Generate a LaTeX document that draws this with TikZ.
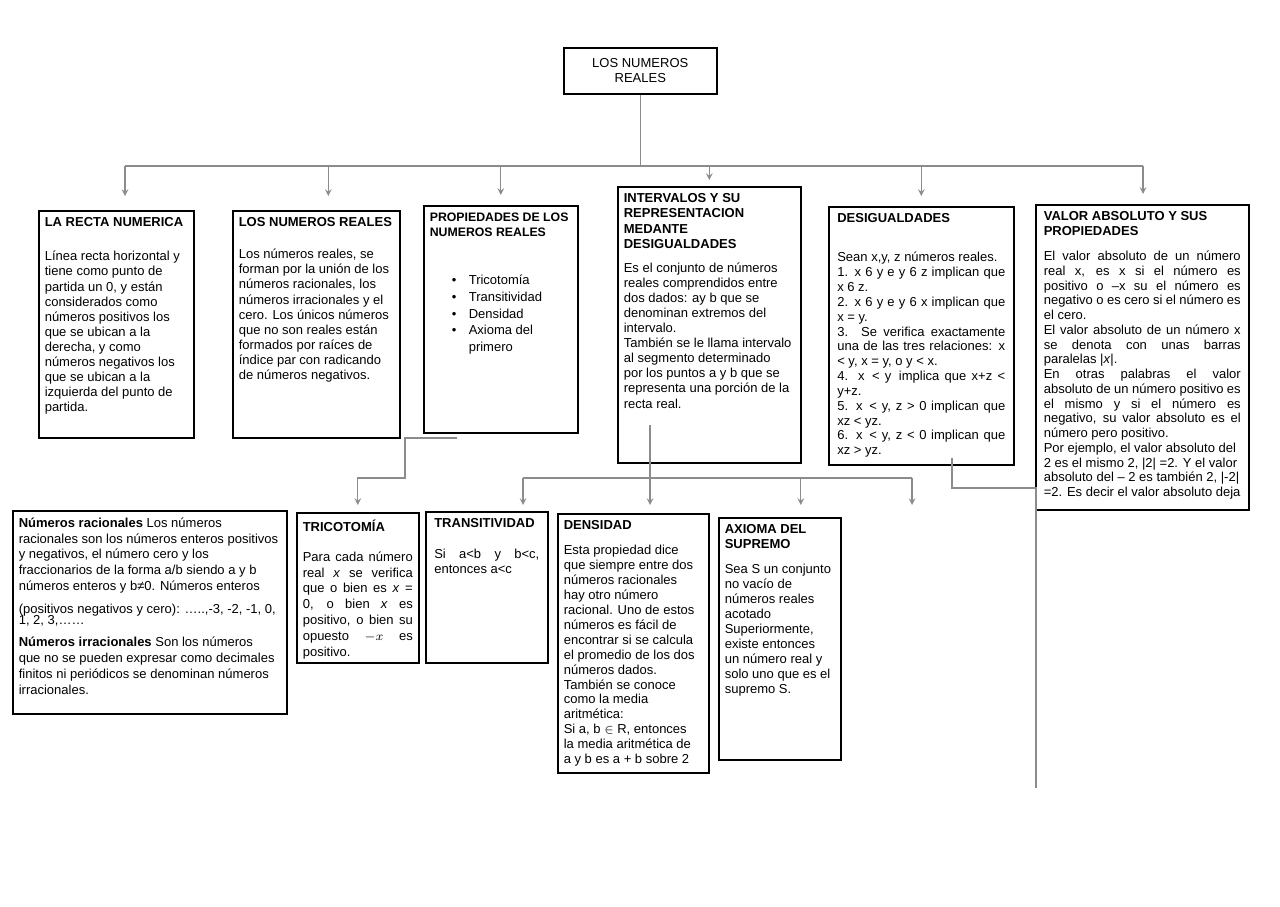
\documentclass[tikz,border=0pt]{standalone}
\usepackage{fontspec}
\setmainfont{Liberation Sans}
\usetikzlibrary{arrows,positioning}

\hyphenpenalty=10000
\exhyphenpenalty=10000

\newcommand{\contenido}[3]{\parbox[t][#2][t]{#1}{#3}}
\newcommand{\punto}{\hspace*{0.44cm}\makebox[0.34cm][l]{\textbullet}}

\begin{document}
\begin{tikzpicture}[x=0.02cm, y=-0.02cm,
    caja/.style={draw, line width=0.9pt, anchor=north west, inner xsep=0.12cm, inner ysep=0.14cm, font=\fontsize{7.4}{8.6}\selectfont},
    linea/.style={draw=black!45, line width=0.7pt},
    flecha/.style={linea, ->, >=stealth, shorten >=0.2cm}
]
\useasboundingbox (0,0) rectangle (1280,906);

% raiz
\node (raiz) [caja, minimum width=3.06cm, minimum height=0.92cm, align=center] at (563,47) {LOS NUMEROS\\REALES};

% primer nivel
\node (recta) [caja] at (38,210) {\contenido{2.86cm}{4.26cm}{\textbf{LA RECTA NUMERICA}\\[10.7pt]
Línea recta horizontal y\\ tiene como punto de\\ partida un 0, y están\\ considerados como\\ números positivos los\\ que se ubican a la\\ derecha, y como\\ números negativos los\\ que se ubican a la\\ izquierda del punto de\\ partida.}};
\node (reales) [caja] at (232,210) {\contenido{3.10cm}{4.26cm}{\textbf{LOS NUMEROS REALES}\\[9.5pt]
Los números reales, se\\ forman por la unión de los\\ números racionales, los\\ números irracionales y el\\ cero. Los únicos números\\ que no son reales están\\ formados por raíces de\\ índice par con radicando\\ de números negativos.}};
\node (propiedades) [caja] at (423,205) {\contenido{2.84cm}{4.26cm}{\mbox{\fontsize{7}{8.6}\selectfont\textbf{PROPIEDADES DE LOS}}\\ \textbf{\fontsize{7}{8.6}\selectfont NUMEROS REALES}\\[19pt]
\punto Tricotomía\\[0.8pt] \punto Transitividad\\[0.8pt] \punto Densidad\\[0.8pt] \punto Axioma del\\[0.8pt] \hspace*{0.78cm}primero}};
\node (intervalos) [caja] at (617,186) {\contenido{3.42cm}{5.24cm}{\textbf{INTERVALOS Y SU}\\ \textbf{REPRESENTACION}\\ \textbf{MEDANTE}\\ \textbf{DESIGUALDADES}\\[5pt]
Es el conjunto de números\\ reales comprendidos entre\\ dos dados: ay b que se\\ denominan extremos del\\ intervalo.\\ También se le llama intervalo\\ al segmento determinado\\ por los puntos a y b que se\\ representa una porción de la\\ recta real.}};
\node (desigualdades) [caja, inner xsep=0.17cm, font=\fontsize{7.4}{8.45}\selectfont] at (828,206) {\contenido{3.36cm}{4.88cm}{\textbf{DESIGUALDADES}\\[13.7pt]
Sean x,y, z números reales.\par
1. x 6 y e y 6 z implican que\linebreak x 6 z.\par
2. x 6 y e y 6 x implican que\linebreak x = y.\par
3. Se verifica exactamente\linebreak una de las tres relaciones: x\linebreak < y, x = y, o y < x.\par
4. x\, < y\, implica que x+z <\linebreak y+z.\par
5. x\, < y, z > 0 implican que\linebreak xz < yz.\par
6. x\, < y, z < 0 implican que\linebreak xz > yz.}};
\node (valor) [caja, inner xsep=0.16cm, font=\fontsize{7.4}{8.4}\selectfont] at (1035,204) {\contenido{3.94cm}{5.82cm}{\textbf{VALOR ABSOLUTO Y SUS}\\ \textbf{PROPIEDADES}\\[5.8pt]
El valor absoluto de un número\linebreak real x, es x si el número es\linebreak positivo o –x su el número es\linebreak negativo o es cero si el número es\linebreak el cero.\par
El valor absoluto de un número x\linebreak se denota con unas barras\linebreak paralelas |\textit{x}|.\par
En otras palabras el valor\linebreak absoluto de un número positivo es\linebreak el mismo y si el número es\linebreak negativo, su valor absoluto es el\linebreak número pero positivo.\par
Por ejemplo, el valor absoluto del\\ 2 es el mismo 2, |2| =2. Y el valor\\ absoluto del – 2 es también 2, |-2|\\ =2. Es decir el valor absoluto deja}};

% segundo nivel
\node (racionales) [caja, font=\fontsize{7.4}{9}\selectfont] at (12,510) {\contenido{5.24cm}{3.78cm}{\textbf{Números racionales} Los números\\ racionales son los números enteros positivos\\ y negativos, el número cero y los\\ fraccionarios de la forma a/b siendo a y b\\ números enteros y b≠0. Números enteros\\[4pt]
(positivos negativos y cero): …..,-3, -2, -1, 0,\\[-3pt] 1, 2, 3,……\\[4pt]
\textbf{Números irracionales} Son los números\\ que no se pueden expresar como decimales\\ finitos ni periódicos se denominan números\\ irracionales.}};
\node (tricotomia) [caja, font=\fontsize{7.4}{9}\selectfont] at (296,512) {\contenido{2.20cm}{2.72cm}{\textbf{TRICOTOMÍA}\\[8pt]
Para cada número\linebreak real \textit{x} se verifica\linebreak que o bien es \textit{x} =\linebreak 0, o bien \textit{x} es\linebreak positivo, o bien su\linebreak opuesto $-x$ es\linebreak positivo.}};
\node (transitividad) [caja, inner xsep=0.17cm] at (425,511) {\contenido{2.10cm}{2.74cm}{\textbf{TRANSITIVIDAD}\\[9pt]
Si a<b y b<c, entonces a<c}};
\node (densidad) [caja, font=\fontsize{7.4}{8.5}\selectfont] at (557,513) {\contenido{2.78cm}{4.9cm}{\textbf{DENSIDAD}\\[5.6pt]
Esta propiedad dice\\ que siempre entre dos\\ números racionales\\ hay otro número\\ racional. Uno de estos\\ números es fácil de\\ encontrar si se calcula\\ el promedio de los dos\\ números dados.\\ También se conoce\\ como la media\\ aritmética:\\ Si a, b $\in$ R, entonces\\ la media aritmética de\\ a y b es a + b sobre 2}};
\node (axioma) [caja, font=\fontsize{7.4}{8.5}\selectfont] at (718,517) {\contenido{2.20cm}{4.56cm}{\textbf{AXIOMA DEL}\\ \textbf{SUPREMO}\\[5.6pt]
Sea S un conjunto\\ no vacío de\\ números reales\\ acotado\\ Superiormente,\\ existe entonces\\ un número real y\\ solo uno que es el\\ supremo S.}};

% conectores del primer nivel
\coordinate (busizq) at (125,166);
\coordinate (busder) at (1143,166);
\draw [linea] (raiz.south) -- (raiz.south |- busizq);
\draw [linea] (busizq) -- (busder);
\draw [flecha, shorten >=0.28cm] (busizq) -- (busizq |- recta.north);
\draw [flecha, shorten >=0.28cm] ([xshift=0.24cm]reales.north |- busizq) -- ([xshift=0.24cm]reales.north);
\draw [flecha] (propiedades.north |- busizq) -- (propiedades.north);
\draw [flecha, shorten >=0.12cm] (intervalos.north |- busizq) -- (intervalos.north);
\draw [flecha] (desigualdades.north |- busizq) -- (desigualdades.north);
\draw [flecha] (busder) -- (busder |- valor.north);

% conectores del segundo nivel
\coordinate (propbajo) at (457,438);
\draw [flecha, shorten >=0.14cm] (propbajo) -- (405,438) -- (405,478) -| (tricotomia.north);
\coordinate (intbajo) at (650,425);
\coordinate (ramaizq) at (523,478);
\coordinate (ramader) at (912,478);
\coordinate (suelta) at (912,505);
\draw [linea] (ramaizq) -- (ramader);
\draw [flecha, shorten >=0.16cm] (intbajo) -- (intbajo |- densidad.north);
\draw [flecha, shorten >=0.12cm] (ramaizq) -- (ramaizq |- transitividad.north);
\draw [flecha, shorten >=0.24cm] ([xshift=0.42cm]axioma.north |- ramaizq) -- ([xshift=0.42cm]axioma.north);
\draw [flecha, shorten >=0pt] (ramader) -- (suelta);
\coordinate (desbajo) at (952,458);
\coordinate (valorbajo) at (1036,788);
\draw [linea] (desbajo) -- (952,488) -| (valorbajo);
\end{tikzpicture}
\end{document}
